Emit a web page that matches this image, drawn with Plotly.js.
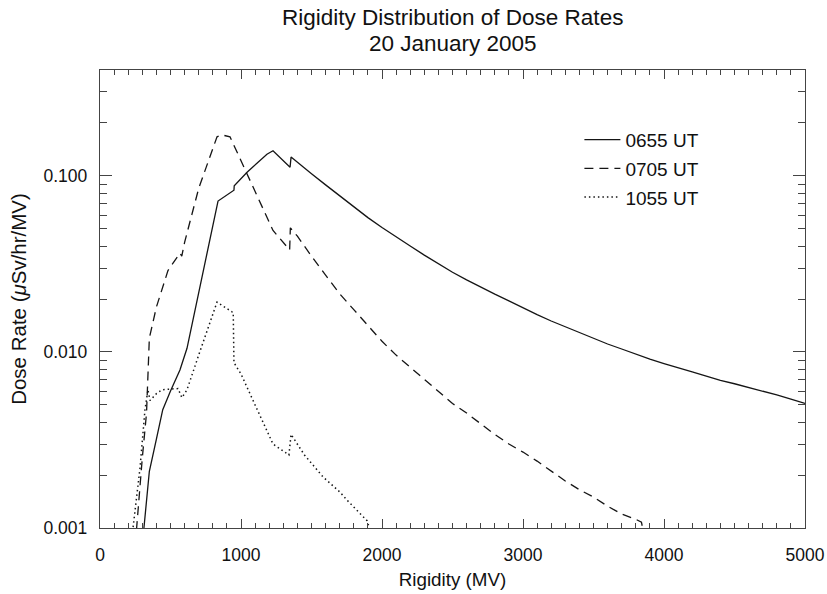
<!DOCTYPE html>
<html>
<head>
<meta charset="utf-8">
<script src="https://cdn.plot.ly/plotly-3.0.1.min.js"></script>
<style>html,body{margin:0;padding:0;background:#fff;}#chart{width:827px;height:594px;}</style>
</head>
<body>
<div id="chart"></div>
<script>
// 0655 UT (solid)
const rig0655 = [300, 312, 350, 400, 445, 500, 567, 617, 837, 950, 952, 1043, 1184, 1227, 1348, 1355, 1400, 1500, 1600, 1700, 1800, 1900, 2000, 2100, 2200, 2300, 2400, 2500, 2600, 2700, 2800, 2900, 3000, 3100, 3200, 3300, 3400, 3500, 3600, 3700, 3800, 3900, 4000, 4100, 4200, 4300, 4400, 4500, 4600, 4700, 4800, 4900, 5000];
const dose0655 = [0.0008, 0.001, 0.0021, 0.0032, 0.0047, 0.006, 0.0079, 0.0105, 0.072, 0.083, 0.088, 0.105, 0.133, 0.139, 0.112, 0.128, 0.120, 0.103, 0.089, 0.077, 0.067, 0.058, 0.051, 0.045, 0.040, 0.0355, 0.0317, 0.0284, 0.0257, 0.0233, 0.0213, 0.0195, 0.0178, 0.0163, 0.0150, 0.0139, 0.0128, 0.0119, 0.0111, 0.0104, 0.0097, 0.0091, 0.0086, 0.0081, 0.0077, 0.0073, 0.0069, 0.0066, 0.0063, 0.0060, 0.0057, 0.0054, 0.0051];

// 0705 UT (dashed)
const rig0705 = [250, 275, 300, 330, 345, 350, 400, 482, 567, 580, 600, 700, 830, 865, 922, 1050, 1227, 1345, 1350, 1400, 1450, 1500, 1600, 1700, 1800, 1900, 2000, 2100, 2200, 2300, 2400, 2500, 2600, 2700, 2800, 2900, 3000, 3100, 3200, 3300, 3400, 3500, 3600, 3700, 3800, 3840, 3860];
const dose0705 = [0.0008, 0.0015, 0.0025, 0.0045, 0.0085, 0.012, 0.018, 0.029, 0.0365, 0.035, 0.042, 0.085, 0.167, 0.171, 0.167, 0.100, 0.049, 0.038, 0.0507, 0.0455, 0.0396, 0.035, 0.0273, 0.0214, 0.0174, 0.0141, 0.0115, 0.0096, 0.0082, 0.0070, 0.0060, 0.0051, 0.0045, 0.0039, 0.0034, 0.0030, 0.0027, 0.0024, 0.0021, 0.00185, 0.00165, 0.0015, 0.00133, 0.0012, 0.00112, 0.00108, 0.0009];

// 1055 UT (dotted)
const rig1055 = [220, 234, 284, 319, 340, 355, 400, 440, 553, 581, 617, 700, 830, 936, 945, 950, 1000, 1100, 1206, 1227, 1340, 1355, 1450, 1582, 1702, 1752, 1894, 1920];
const dose1055 = [0.0008, 0.001, 0.0022, 0.0047, 0.0061, 0.0053, 0.0058, 0.0061, 0.0062, 0.0055, 0.0061, 0.0096, 0.0192, 0.0169, 0.0168, 0.0087, 0.0075, 0.0050, 0.0033, 0.0030, 0.0026, 0.0034, 0.0026, 0.00195, 0.0016, 0.00144, 0.0011, 0.00095];

const seriesNames = ['0655 UT', '0705 UT', '1055 UT'];
const titleLines = ['Rigidity Distribution of Dose Rates', '20 January 2005'];
const xTickVals = [0, 1000, 2000, 3000, 4000, 5000];
const yTickVals = [0.001, 0.01, 0.1];
const yTickText = ['0.001', '0.010', '0.100'];
const yMinorVals = [0.002,0.003,0.004,0.005,0.006,0.007,0.008,0.009,0.02,0.03,0.04,0.05,0.06,0.07,0.08,0.09,0.2,0.3,0.4];

const lc = '#151515';
const font = 'Liberation Sans, Arial, Helvetica, sans-serif';
const traces = [
  {x: rig0655, y: dose0655, name: seriesNames[0], legendgroup: 'a', mode: 'lines', line: {color: lc, width: 1.3}},
  {x: rig0705, y: dose0705, name: seriesNames[1], legendgroup: 'b', mode: 'lines', line: {color: lc, width: 1.3, dash: '9px,6px'}},
  {x: rig1055, y: dose1055, name: seriesNames[2], legendgroup: 'c', mode: 'lines', line: {color: lc, width: 1.5, dash: '1.5px,3px'}}
];

const axColor = '#444';
const layout = {
  width: 827, height: 594,
  margin: {l: 100, r: 22, t: 70, b: 66},
  paper_bgcolor: '#fff', plot_bgcolor: '#fff',
  font: {family: font, color: '#111', size: 17.5},
  showlegend: true,
  legend: {x: 0.68, xanchor: 'left', y: 0.889, yanchor: 'top', bgcolor: 'rgba(0,0,0,0)', borderwidth: 0, font: {size: 19, family: font}, traceorder: 'grouped', tracegroupgap: 1, itemwidth: 36},
  annotations: [
    {text: titleLines[0], xref: 'paper', yref: 'paper', x: 0.5, y: (528 - 17) / 458, xanchor: 'center', yanchor: 'middle', showarrow: false, font: {size: 22.5, family: font, color: '#111'}},
    {text: titleLines[1], xref: 'paper', yref: 'paper', x: 0.5, y: (528 - 43) / 458, xanchor: 'center', yanchor: 'middle', showarrow: false, font: {size: 22.5, family: font, color: '#111'}}
  ],
  xaxis: {
    range: [0, 5000], showgrid: false, zeroline: false,
    showline: true, linecolor: axColor, linewidth: 1.2, mirror: 'allticks',
    ticks: 'inside', ticklen: 9, tickcolor: axColor, tickwidth: 1,
    tickmode: 'array', tickvals: xTickVals, ticktext: xTickVals.map(String),
    ticklabelstandoff: 11,
    minor: {ticks: 'inside', ticklen: 5, tickcolor: axColor, tickwidth: 1, dtick: 100, tick0: 0, showgrid: false},
    title: {text: 'Rigidity (MV)', font: {size: 18.8, family: font}, standoff: 8}
  },
  yaxis: {
    type: 'log', range: [-3, Math.log10(0.4)], showgrid: false, zeroline: false,
    showline: true, linecolor: axColor, linewidth: 1.2, mirror: 'allticks',
    ticks: 'inside', ticklen: 12, tickcolor: axColor, tickwidth: 1,
    tickmode: 'array', tickvals: yTickVals, ticktext: yTickText,
    ticklabelstandoff: 8,
    minor: {ticks: 'inside', ticklen: 7, tickcolor: axColor, tickwidth: 1, tickmode: 'array', tickvals: yMinorVals, showgrid: false},
    title: {text: 'Dose Rate (<i>μ</i>Sv/hr/MV)', font: {size: 20.5, family: font}, standoff: 11}
  }
};

Plotly.newPlot('chart', traces, layout, {displayModeBar: false, staticPlot: true});
</script>
</body>
</html>
